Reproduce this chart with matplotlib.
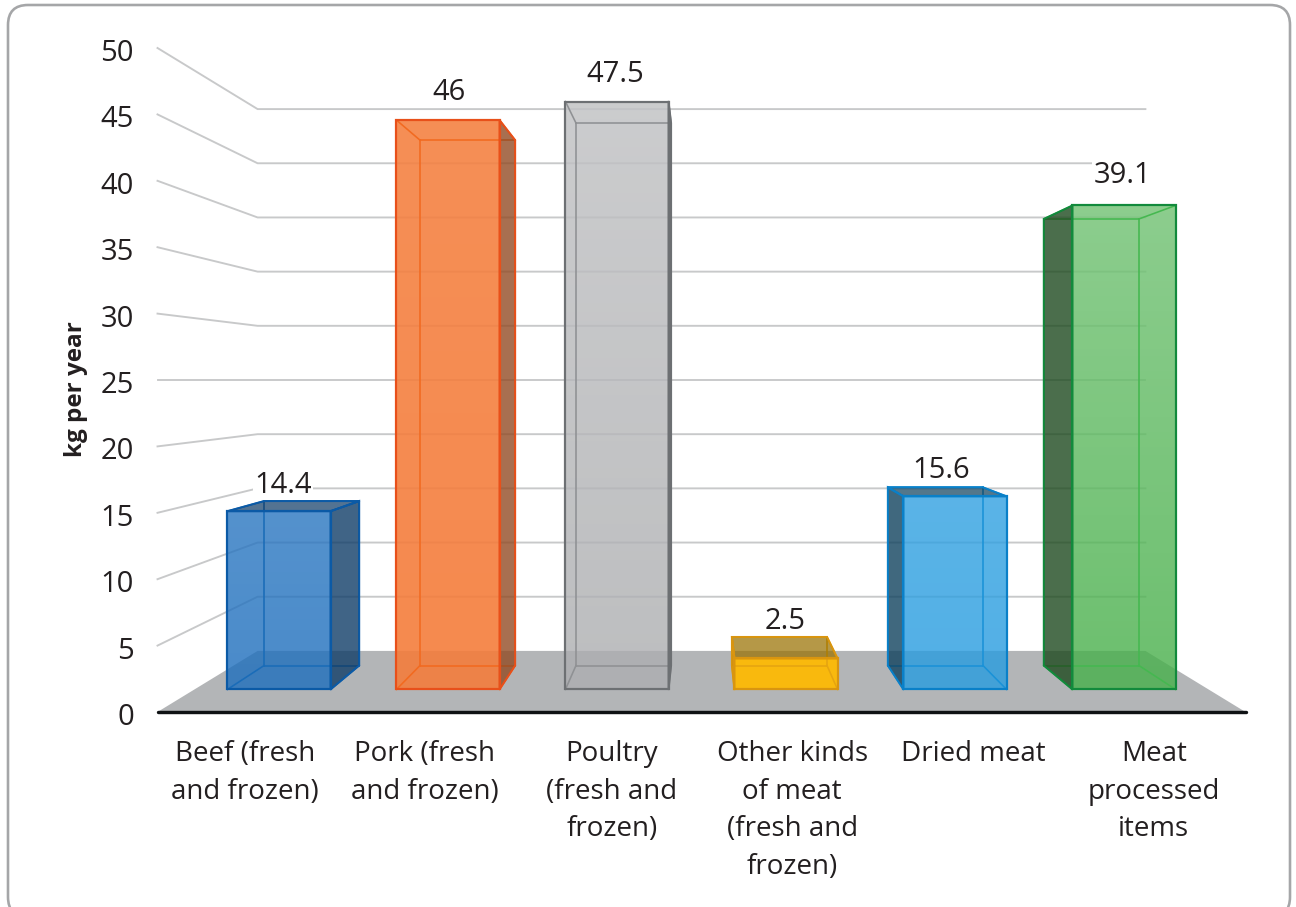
import matplotlib
matplotlib.use("Agg")
import matplotlib.pyplot as plt
import numpy as np
from matplotlib.patches import FancyBboxPatch, Polygon
from matplotlib.transforms import IdentityTransform, ScaledTranslation

plt.rcParams["font.family"] = ["Open Sans", "DejaVu Sans"]

categories = [
    "Beef (fresh\nand frozen)",
    "Pork (fresh\nand frozen)",
    "Poultry\n(fresh and\nfrozen)",
    "Other kinds\nof meat\n(fresh and\nfrozen)",
    "Dried meat",
    "Meat\nprocessed\nitems",
]
values = [14.4, 46, 47.5, 2.5, 15.6, 39.1]
value_labels = ["14.4", "46", "47.5", "2.5", "15.6", "39.1"]
yticks = [0, 5, 10, 15, 20, 25, 30, 35, 40, 45, 50]

base_colors = ["#1d6ebd", "#f47d3c", "#adaeb1", "#ffba00", "#279ce0", "#47b04a"]
edge_colors = ["#0b5aa6", "#e8501a", "#6d7073", "#d9950f", "#0a80c8", "#128a3c"]
inner_colors = ["#1a6cb8", "#f26a20", "#8f9194", "#e6a510", "#1a92d8", "#45b850"]
front_alpha = [0.8, 0.9, 0.8, 0.93, 0.8, 0.8]
side_shade = [0.55, 0.6, 0.55, 0.6, 0.42, 0.42]
top_glow = [0.06, 0.04, 0.22, 0.0, 0.05, 0.22]
# offset of each value label from the top of its bar, in pixels
label_offsets = [(4, 26), (1, 28), (-2, 27), (-1, 37), (-14, 26), (-2, 30)]
# sideways nudge of each category label, in pixels
xlabel_nudge = [-3, -5, 1, 0, 0, -1]

TEXT = "#231f20"
PX = 0.72  # one pixel in points at dpi 100

# perspective: everything shrinks towards the middle of the chart
VANISH_X = 2.5
VANISH_Y = 25
S_WALL = 0.816
S_FRONT = 0.932
S_BACK = 0.86
BAR_W = 0.305


def project(c, v, s):
    return VANISH_X + s * (c - VANISH_X), VANISH_Y + s * (v - VANISH_Y)


def shade(hex_color, f):
    rgb = matplotlib.colors.to_rgb(hex_color)
    return tuple(x * f for x in rgb)


fig = plt.figure(figsize=(12.96, 9.07), dpi=100)
ax = fig.add_axes([157.5 / 1296, (907 - 712) / 907, 1088 / 1296, 664 / 907])
for sp in ax.spines.values():
    sp.set_visible(False)
ax.patch.set_visible(False)

# rounded frame round the whole chart
frame = FancyBboxPatch(
    (8, 907 - 917), 1282, 912,
    boxstyle="round,pad=0,rounding_size=20",
    transform=IdentityTransform(),
    fc="white", ec="#a5a6a8", lw=2.6 * PX, zorder=-5,
)
fig.add_artist(frame)

# floor
floor = [
    project(-0.5, 0, 1),
    project(-0.5, 0, S_WALL),
    project(5.5, 0, S_WALL),
    project(5.5, 0, 1),
]
ax.add_patch(Polygon(floor, closed=True, fc="#b3b5b7", ec="none", zorder=1, clip_on=False))

# gridlines: slanted on the side wall, flat along the back wall
for t in yticks[1:]:
    pts = [project(-0.5, t, 1), project(-0.5, t, S_WALL), project(5.5, t, S_WALL)]
    ax.plot(*zip(*pts), color="#c8c9ca", lw=1.9 * PX, zorder=2, clip_on=False)

# bars
for i, (v, col, ec) in enumerate(zip(values, base_colors, edge_colors)):
    left, right = i - BAR_W, i + BAR_W
    fbl = project(left, 0, S_FRONT)
    fbr = project(right, 0, S_FRONT)
    ftl = project(left, v, S_FRONT)
    ftr = project(right, v, S_FRONT)
    bbl = project(left, 0, S_BACK)
    bbr = project(right, 0, S_BACK)
    btl = project(left, v, S_BACK)
    btr = project(right, v, S_BACK)
    z = 3 + i * 0.1
    dark = shade(col, side_shade[i])

    front = Polygon([fbl, fbr, ftr, ftl], closed=True, fc=col, ec="none",
                    alpha=front_alpha[i], zorder=z, clip_on=False)
    ax.add_patch(front)

    # front face gets paler towards its top
    if top_glow[i] > 0:
        ramp = np.ones((64, 1, 4))
        ramp[:, 0, 3] = np.linspace(top_glow[i], 0, 64)
        glow = ax.imshow(ramp, extent=[ftl[0], ftr[0], fbl[1], ftl[1]], aspect="auto",
                         origin="upper", zorder=z + 0.01)
        glow.set_clip_path(Polygon([fbl, fbr, ftr, ftl], transform=ax.transData))

    # edges seen through the front face
    for a, b in [(bbl, bbr), (btl, btr), (bbl, btl), (bbr, btr),
                 (fbl, bbl), (fbr, bbr), (ftl, btl), (ftr, btr)]:
        ax.plot(*zip(a, b), color=inner_colors[i], lw=1.6 * PX, zorder=z + 0.02, clip_on=False)

    # outer side face, on the side nearest the middle of the chart
    if i < VANISH_X:
        side = [fbr, bbr, btr, ftr]
    else:
        side = [fbl, bbl, btl, ftl]
    ax.add_patch(Polygon(side, closed=True, fc=dark, alpha=0.8, ec="none",
                         zorder=z + 0.03, clip_on=False))
    ax.add_patch(Polygon(side, closed=True, fc="none", ec=ec, lw=2 * PX,
                         zorder=z + 0.04, clip_on=False))

    # top face only shows from above below the eye line
    if v < VANISH_Y:
        ax.add_patch(Polygon([ftl, ftr, btr, btl], closed=True, fc=dark, alpha=0.72, ec="none",
                             zorder=z + 0.03, clip_on=False))
        ax.add_patch(Polygon([ftl, ftr, btr, btl], closed=True, fc="none", ec=ec, lw=2 * PX,
                             zorder=z + 0.04, clip_on=False))

    ax.add_patch(Polygon([fbl, fbr, ftr, ftl], closed=True, fc="none", ec=ec, lw=2.2 * PX,
                         zorder=z + 0.05, clip_on=False))

    # white box hides the gridlines behind the label but stays under the bars
    ax.annotate(
        value_labels[i], xy=project(i, v, S_FRONT), xytext=label_offsets[i],
        textcoords="offset pixels", ha="center", va="center", fontsize=21, color=TEXT,
        annotation_clip=False, zorder=2.5,
        bbox=dict(fc="white", ec="none", pad=1),
    )

ax.set_xlim(-0.5, 5.5)
ax.set_ylim(0, 50)

# category axis line
ax.plot([-0.5, 5.5], [0, 0], color="#0f1214", lw=3.4 * PX, zorder=6, clip_on=False,
        solid_capstyle="round")

ax.set_xticks(range(len(categories)))
ax.set_xticklabels(categories, fontsize=20, color=TEXT, linespacing=1.45)
ax.set_yticks(yticks)
ax.set_yticklabels([str(t) for t in yticks], fontsize=21, color=TEXT)
ax.tick_params(axis="x", length=0, pad=20.5)
ax.tick_params(axis="y", length=0, pad=17)

for lbl, dx in zip(ax.get_xticklabels(), xlabel_nudge):
    lbl.set_transform(lbl.get_transform() + ScaledTranslation(dx / 100, 0, fig.dpi_scale_trans))
for lbl in ax.get_yticklabels():
    lbl.set_transform(lbl.get_transform() + ScaledTranslation(0, -2 / 100, fig.dpi_scale_trans))

ax.set_ylabel("kg per year", fontsize=17.5, fontweight="bold", color=TEXT)
ax.yaxis.set_label_coords((88 - 157.5) / 1088, (712 - 389) / 664)

fig.savefig("out.png", dpi=100, facecolor="white")
